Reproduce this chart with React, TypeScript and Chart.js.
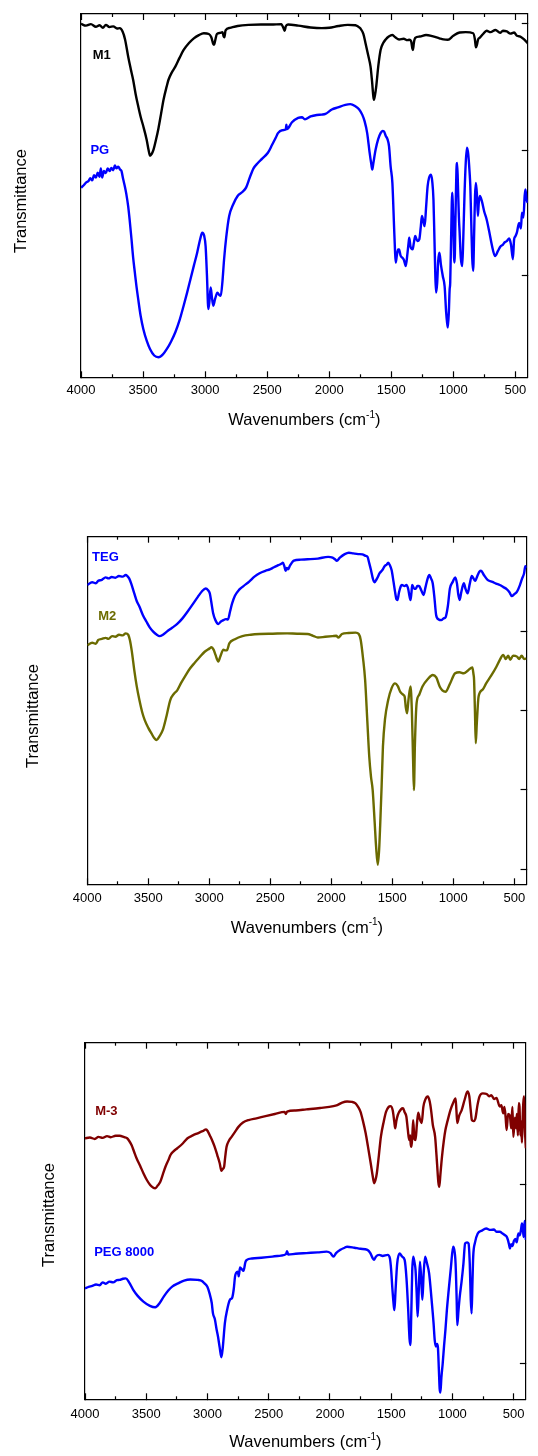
import React, { useEffect, useRef } from 'react';
import { Chart, registerables } from 'chart.js';

Chart.register(...registerables);

type Pt = [number, number]; // [wavenumber cm-1, transmittance (a.u.)]

// ---------------- DATA ----------------
const X_MAJOR_TICKS = [4000, 3500, 3000, 2500, 2000, 1500, 1000, 500];
const X_MINOR_TICKS = [3750, 3250, 2750, 2250, 1750, 1250, 750];

const M1_SPECTRUM: Pt[] = [
  [4000, 97.3], [3960, 96.8], [3920, 97.2], [3880, 96.5], [3850, 96.9], [3824, 96.2], [3800, 97.0], [3770, 96.4],
  [3740, 96.6], [3710, 96.0], [3688, 96.1], [3665, 95.2], [3645, 93.0], [3620, 88.3], [3600, 85.0], [3580, 81.9],
  [3560, 78.0], [3539, 74.6], [3518, 71.5], [3498, 69.1], [3471, 65.4], [3455, 62.5], [3444, 61.0], [3430, 61.5],
  [3417, 62.5], [3395, 65.5], [3376, 68.5], [3355, 72.5], [3335, 76.4], [3310, 80.0], [3295, 81.9], [3270, 83.8],
  [3240, 85.5], [3205, 88.0], [3173, 90.1], [3130, 92.0], [3091, 93.3], [3050, 94.2], [3010, 94.7], [2970, 94.5],
  [2950, 93.6], [2935, 91.8], [2928, 91.5], [2920, 92.5], [2905, 94.5], [2880, 94.8], [2860, 95.0], [2850, 93.8],
  [2845, 93.6], [2835, 95.5], [2800, 96.2], [2738, 96.7], [2650, 97.0], [2550, 97.1], [2467, 97.1], [2386, 97.2],
  [2365, 95.8], [2359, 95.4], [2350, 96.6], [2332, 97.1], [2250, 96.8], [2150, 96.3], [2060, 96.1], [2000, 96.2],
  [1925, 96.7], [1850, 97.0], [1789, 96.9], [1770, 96.6], [1748, 96.0], [1725, 94.5], [1707, 91.9], [1685, 88.5],
  [1667, 85.5], [1655, 81.5], [1645, 77.5], [1640, 76.4], [1632, 77.5], [1621, 80.1], [1605, 85.5], [1586, 90.1],
  [1565, 92.0], [1545, 93.0], [1520, 93.8], [1491, 94.2], [1465, 93.5], [1437, 93.0], [1400, 93.2], [1370, 92.8],
  [1355, 92.9], [1340, 92.5], [1330, 90.5], [1325, 90.1], [1318, 92.0], [1307, 93.4], [1270, 93.8], [1220, 94.2],
  [1170, 93.9], [1112, 93.3], [1080, 93.0], [1044, 92.9], [1000, 94.0], [949, 94.9], [900, 95.0], [840, 94.7],
  [826, 93.0], [818, 90.8], [810, 91.5], [800, 93.0], [786, 93.5], [760, 94.5], [732, 95.4], [700, 95.0],
  [660, 95.6], [623, 94.8], [600, 95.4], [569, 95.2], [540, 94.6], [510, 94.9], [488, 94.0], [460, 93.8],
  [430, 93.0], [400, 91.9],
];

const PG_SPECTRUM: Pt[] = [
  [4000, 52.2], [3980, 52.8], [3960, 53.6], [3940, 54.0], [3925, 54.8], [3910, 54.2], [3895, 55.6], [3880, 55.0],
  [3865, 56.3], [3851, 55.2], [3840, 57.5], [3830, 55.0], [3815, 56.8], [3800, 56.2], [3785, 57.5], [3769, 56.8],
  [3755, 57.6], [3740, 57.0], [3727, 58.3], [3715, 57.5], [3700, 58.0], [3685, 57.2], [3674, 56.8], [3660, 54.5],
  [3647, 52.6], [3635, 50.5], [3620, 47.1], [3607, 43.0], [3593, 38.0], [3580, 33.0], [3566, 28.8], [3553, 25.0],
  [3539, 21.5], [3520, 17.0], [3498, 13.3], [3470, 10.0], [3444, 7.8], [3410, 6.0], [3376, 5.5], [3340, 6.3],
  [3308, 7.8], [3275, 9.8], [3240, 12.4], [3205, 15.8], [3173, 19.7], [3145, 23.3], [3118, 27.0], [3090, 30.8],
  [3064, 34.3], [3040, 38.0], [3023, 39.8], [3008, 39.0], [2996, 36.1], [2985, 28.0], [2974, 18.8], [2965, 21.0],
  [2955, 24.7], [2945, 22.0], [2934, 19.7], [2920, 21.5], [2901, 23.3], [2885, 22.6], [2874, 22.4], [2860, 26.5],
  [2847, 32.5], [2830, 38.5], [2806, 44.4], [2775, 47.5], [2738, 49.9], [2700, 51.0], [2670, 52.2], [2640, 55.0],
  [2610, 57.5], [2575, 59.0], [2540, 60.2], [2494, 61.8], [2460, 64.0], [2430, 66.0], [2413, 67.2], [2380, 68.0],
  [2350, 68.2], [2345, 69.5], [2340, 68.3], [2300, 70.2], [2250, 71.4], [2220, 71.6], [2196, 71.0], [2150, 71.8],
  [2100, 72.2], [2060, 72.3], [2030, 72.5], [1979, 73.7], [1930, 74.3], [1870, 75.0], [1830, 75.2], [1789, 74.6],
  [1760, 73.8], [1734, 72.3], [1715, 70.5], [1694, 67.2], [1675, 62.0], [1660, 58.5], [1653, 57.2], [1645, 58.8],
  [1626, 62.7], [1606, 65.5], [1586, 67.2], [1570, 67.8], [1559, 67.7], [1545, 66.5], [1530, 65.5], [1518, 63.6],
  [1505, 58.0], [1491, 53.5], [1478, 42.0], [1470, 35.0], [1464, 31.6], [1455, 33.5], [1445, 35.2], [1437, 35.2],
  [1425, 33.5], [1410, 32.9], [1398, 32.3], [1383, 30.6], [1370, 34.0], [1362, 36.5], [1355, 38.4], [1345, 36.0],
  [1328, 35.2], [1318, 37.0], [1307, 38.9], [1290, 37.5], [1274, 38.0], [1262, 41.5], [1253, 44.4], [1242, 43.0],
  [1231, 41.6], [1220, 46.5], [1207, 52.6], [1195, 55.0], [1180, 55.8], [1170, 54.0], [1160, 48.9], [1152, 38.0],
  [1145, 28.0], [1139, 23.3], [1130, 26.0], [1122, 32.0], [1112, 34.3], [1100, 31.0], [1085, 27.9], [1070, 25.0],
  [1058, 18.0], [1050, 15.0], [1044, 13.7], [1036, 18.0], [1030, 24.0], [1025, 26.1], [1018, 38.0], [1009, 50.8],
  [1000, 42.0], [994, 33.0], [990, 31.6], [982, 45.0], [975, 57.0], [969, 59.0], [962, 52.0], [955, 44.0],
  [949, 39.8], [940, 33.0], [928, 30.6], [920, 38.0], [910, 50.0], [900, 59.0], [890, 63.2], [880, 61.5],
  [870, 57.0], [863, 52.6], [855, 42.0], [848, 33.0], [840, 29.3], [832, 40.0], [825, 50.0], [818, 53.5],
  [810, 50.5], [802, 44.4], [795, 48.0], [786, 49.9], [770, 48.5], [750, 45.5], [732, 43.5], [710, 40.0],
  [690, 36.5], [664, 33.4], [640, 34.8], [620, 36.0], [600, 36.5], [585, 37.2], [569, 37.5], [550, 38.2],
  [535, 36.5], [520, 32.5], [510, 38.0], [500, 38.8], [488, 39.8], [470, 42.5], [455, 41.0], [447, 45.3],
  [435, 44.0], [425, 50.0], [419, 51.7], [410, 49.0], [400, 48.0],
];

const TEG_SPECTRUM: Pt[] = [
  [4000, 86.1], [3960, 86.9], [3930, 86.6], [3910, 87.3], [3880, 87.6], [3850, 88.3], [3826, 88.0], [3800, 88.4],
  [3770, 88.2], [3741, 88.7], [3710, 88.5], [3685, 89.0], [3670, 88.6], [3657, 88.0], [3640, 86.5], [3615, 83.7],
  [3595, 81.5], [3573, 79.9], [3545, 77.5], [3516, 75.6], [3490, 74.0], [3460, 72.7], [3430, 71.8], [3409, 71.4],
  [3380, 71.8], [3348, 72.7], [3305, 73.8], [3263, 74.9], [3220, 76.5], [3179, 78.4], [3135, 80.6], [3094, 82.7],
  [3060, 84.3], [3030, 85.1], [3010, 84.6], [2996, 83.7], [2985, 81.5], [2968, 77.9], [2950, 76.0], [2926, 74.9],
  [2905, 75.6], [2884, 76.0], [2865, 76.3], [2847, 76.2], [2830, 78.5], [2813, 80.8], [2790, 83.0], [2757, 84.7],
  [2720, 85.8], [2673, 87.1], [2630, 88.5], [2588, 89.5], [2540, 90.2], [2504, 90.6], [2470, 91.2], [2434, 91.8],
  [2410, 92.2], [2397, 92.5], [2385, 91.5], [2375, 90.2], [2365, 91.0], [2355, 90.6], [2340, 91.6], [2307, 93.1],
  [2250, 93.4], [2195, 93.5], [2110, 93.7], [2026, 94.2], [1990, 94.0], [1970, 93.5], [1955, 93.1], [1930, 94.0],
  [1890, 95.0], [1857, 95.4], [1820, 95.2], [1780, 95.0], [1745, 94.9], [1720, 94.5], [1703, 94.2], [1690, 92.5],
  [1675, 90.4], [1660, 88.0], [1647, 86.9], [1625, 88.0], [1604, 89.5], [1580, 90.5], [1562, 91.6], [1545, 92.0],
  [1534, 92.5], [1520, 91.8], [1506, 90.4], [1490, 87.0], [1478, 84.2], [1466, 82.0], [1458, 81.8], [1445, 84.0],
  [1430, 85.8], [1422, 86.1], [1400, 85.8], [1385, 86.1], [1370, 85.0], [1360, 83.0], [1351, 81.8], [1343, 84.0],
  [1337, 86.1], [1320, 85.0], [1309, 85.0], [1295, 85.8], [1281, 85.8], [1262, 84.5], [1244, 83.2], [1228, 85.5],
  [1210, 88.0], [1197, 89.0], [1183, 88.0], [1169, 86.6], [1155, 82.5], [1141, 77.5], [1120, 76.2], [1098, 76.0],
  [1080, 76.5], [1064, 76.8], [1045, 80.0], [1028, 85.1], [1005, 87.0], [985, 88.3], [970, 86.5], [960, 83.5],
  [948, 81.8], [935, 84.0], [914, 86.6], [900, 85.0], [883, 83.7], [865, 86.5], [849, 88.7], [835, 88.0],
  [821, 87.3], [800, 89.0], [785, 90.0], [773, 90.2], [750, 89.0], [717, 87.5], [680, 87.0], [650, 86.5],
  [619, 86.1], [590, 85.5], [563, 84.9], [540, 84.0], [521, 82.9], [500, 83.5], [478, 84.2], [455, 86.0],
  [436, 88.0], [420, 89.5], [410, 91.5], [400, 91.0],
];

const M2_SPECTRUM: Pt[] = [
  [4000, 68.8], [3960, 69.5], [3930, 69.2], [3910, 70.3], [3880, 70.6], [3850, 70.9], [3826, 70.6], [3797, 71.4],
  [3770, 71.2], [3740, 71.8], [3710, 71.6], [3685, 72.2], [3665, 71.8], [3651, 70.3], [3635, 67.0], [3615, 61.6],
  [3595, 57.0], [3573, 53.0], [3550, 49.5], [3530, 47.3], [3500, 45.0], [3474, 43.4], [3450, 42.0], [3432, 41.5],
  [3410, 42.5], [3381, 44.4], [3350, 48.5], [3320, 53.0], [3290, 54.8], [3263, 55.8], [3230, 58.0], [3193, 60.2],
  [3160, 62.0], [3123, 63.6], [3080, 65.3], [3038, 66.9], [3000, 67.8], [2982, 68.2], [2965, 67.5], [2949, 66.0],
  [2935, 64.6], [2926, 64.1], [2910, 65.5], [2884, 67.5], [2870, 67.3], [2856, 67.3], [2836, 69.3], [2790, 70.5],
  [2729, 71.4], [2660, 71.8], [2588, 72.0], [2480, 72.1], [2363, 72.2], [2280, 72.1], [2195, 72.0], [2150, 71.5],
  [2110, 71.0], [2050, 71.2], [1990, 71.4], [1960, 71.5], [1942, 71.0], [1913, 72.0], [1860, 72.3], [1801, 72.4],
  [1775, 72.0], [1759, 70.3], [1740, 65.0], [1723, 58.8], [1705, 47.0], [1689, 36.7], [1675, 31.0], [1661, 27.1],
  [1645, 18.0], [1633, 10.8], [1619, 5.6], [1608, 10.0], [1599, 17.5], [1588, 28.0], [1577, 39.6], [1560, 47.5],
  [1534, 53.0], [1505, 56.5], [1478, 57.8], [1455, 57.0], [1436, 55.4], [1410, 54.5], [1399, 54.0], [1390, 51.0],
  [1379, 49.2], [1368, 53.0], [1351, 56.9], [1340, 50.0], [1330, 36.0], [1323, 27.1], [1315, 40.0], [1301, 52.1],
  [1280, 54.5], [1253, 56.9], [1210, 59.0], [1169, 60.2], [1140, 59.5], [1112, 56.9], [1090, 55.8], [1064, 55.4],
  [1030, 57.5], [985, 60.7], [950, 61.0], [914, 60.7], [880, 61.5], [844, 62.4], [835, 60.5], [830, 58.8],
  [823, 50.0], [816, 40.6], [808, 46.0], [793, 54.0], [760, 56.0], [731, 57.8], [690, 60.0], [647, 62.6],
  [620, 64.5], [591, 66.0], [570, 64.8], [550, 65.8], [534, 64.6], [510, 65.8], [478, 65.5], [460, 64.8],
  [440, 65.8], [420, 64.8], [400, 65.0],
];

const M3_SPECTRUM: Pt[] = [
  [4000, 73.2], [3960, 73.4], [3920, 73.0], [3890, 73.6], [3856, 73.3], [3820, 73.8], [3790, 73.5], [3750, 73.9],
  [3717, 73.9], [3680, 73.5], [3656, 73.2], [3640, 72.5], [3620, 71.3], [3600, 69.5], [3579, 67.6], [3550, 65.5],
  [3523, 63.4], [3495, 61.5], [3468, 60.1], [3445, 59.4], [3426, 59.2], [3405, 60.0], [3385, 61.0], [3365, 63.0],
  [3343, 65.2], [3320, 67.0], [3302, 68.5], [3275, 69.6], [3246, 70.4], [3200, 71.8], [3163, 73.2], [3120, 74.0],
  [3080, 74.6], [3040, 75.2], [3011, 75.7], [2995, 75.0], [2975, 73.6], [2958, 72.3], [2941, 70.8], [2920, 68.5],
  [2900, 66.2], [2886, 64.1], [2875, 64.6], [2864, 65.2], [2855, 68.0], [2844, 70.8], [2825, 72.5], [2803, 73.6],
  [2775, 75.0], [2747, 76.4], [2710, 77.6], [2664, 78.3], [2600, 78.8], [2526, 79.4], [2450, 80.0], [2370, 80.6],
  [2359, 80.0], [2350, 80.7], [2280, 81.0], [2193, 81.3], [2080, 81.7], [1971, 82.2], [1940, 82.5], [1900, 83.2],
  [1860, 83.5], [1820, 83.4], [1791, 83.0], [1770, 82.0], [1750, 80.6], [1730, 78.0], [1708, 74.6], [1690, 71.0],
  [1667, 66.2], [1650, 62.5], [1639, 60.6], [1628, 61.5], [1617, 63.4], [1600, 68.5], [1584, 73.6], [1560, 78.0],
  [1542, 80.6], [1520, 82.0], [1506, 82.2], [1487, 81.0], [1475, 78.0], [1467, 76.0], [1458, 78.0], [1445, 79.8],
  [1420, 81.3], [1403, 81.6], [1390, 80.5], [1376, 79.3], [1365, 76.0], [1353, 72.7], [1345, 74.0], [1340, 71.5],
  [1334, 70.8], [1327, 74.0], [1320, 78.3], [1310, 73.0], [1301, 72.7], [1290, 77.0], [1279, 80.4], [1265, 78.5],
  [1251, 77.5], [1237, 82.0], [1223, 83.9], [1201, 84.9], [1185, 83.5], [1174, 81.1], [1160, 77.0], [1141, 73.6],
  [1125, 66.0], [1115, 61.0], [1107, 59.6], [1098, 63.0], [1085, 68.0], [1070, 72.5], [1057, 75.5], [1040, 78.0],
  [1016, 81.1], [995, 83.0], [974, 84.4], [967, 81.0], [960, 77.5], [945, 79.5], [924, 81.1], [900, 84.0],
  [877, 86.3], [862, 85.0], [850, 81.0], [841, 78.3], [828, 78.0], [813, 78.6], [795, 82.5], [779, 84.9],
  [752, 85.8], [720, 85.6], [700, 85.0], [682, 85.3], [660, 84.2], [640, 84.5], [613, 82.1], [600, 82.5],
  [585, 80.2], [575, 82.0], [565, 79.0], [557, 75.5], [545, 80.0], [530, 79.5], [520, 76.0], [510, 82.0],
  [502, 73.6], [490, 79.0], [480, 76.0], [474, 80.0], [465, 74.0], [458, 83.0], [452, 82.1], [445, 74.0],
  [440, 78.0], [432, 72.0], [425, 80.0], [418, 84.9], [414, 84.9], [408, 76.0], [400, 70.4],
];

const PEG8000_SPECTRUM: Pt[] = [
  [4000, 31.1], [3970, 31.5], [3940, 31.8], [3910, 32.2], [3880, 32.0], [3856, 32.8], [3830, 32.4], [3800, 33.0],
  [3770, 32.8], [3740, 33.4], [3717, 33.5], [3690, 33.8], [3667, 33.9], [3640, 32.8], [3606, 30.7], [3570, 29.0],
  [3523, 27.4], [3470, 26.2], [3426, 25.8], [3390, 27.0], [3357, 28.8], [3320, 30.5], [3288, 31.6], [3240, 32.5],
  [3191, 33.3], [3140, 33.6], [3080, 33.5], [3045, 33.2], [3024, 32.5], [3000, 31.5], [2983, 29.7], [2965, 27.0],
  [2955, 24.1], [2940, 22.5], [2925, 19.5], [2914, 17.6], [2900, 14.5], [2886, 11.8], [2875, 14.5], [2858, 21.3],
  [2840, 25.0], [2817, 27.9], [2798, 28.5], [2785, 31.0], [2775, 34.4], [2765, 35.5], [2753, 35.8], [2745, 34.5],
  [2734, 37.0], [2720, 36.5], [2706, 36.0], [2690, 38.5], [2678, 39.1], [2636, 39.5], [2560, 39.7], [2470, 40.0],
  [2400, 40.3], [2359, 40.7], [2350, 41.5], [2340, 40.6], [2280, 40.8], [2193, 41.0], [2100, 41.2], [2027, 41.4],
  [1995, 41.0], [1971, 40.0], [1950, 41.0], [1916, 41.9], [1880, 42.5], [1860, 42.8], [1800, 42.5], [1750, 42.2],
  [1694, 41.9], [1670, 41.0], [1650, 39.5], [1639, 39.1], [1625, 40.0], [1597, 40.5], [1570, 40.2], [1528, 40.5],
  [1510, 39.5], [1500, 36.3], [1490, 31.0], [1478, 26.0], [1473, 25.0], [1465, 30.0], [1451, 38.0], [1431, 40.9],
  [1410, 40.0], [1390, 39.1], [1375, 34.0], [1362, 25.9], [1350, 17.0], [1343, 15.2], [1335, 25.0], [1328, 36.0],
  [1320, 40.0], [1310, 38.5], [1301, 36.3], [1292, 30.0], [1284, 23.2], [1275, 30.0], [1265, 38.6], [1255, 34.0],
  [1245, 27.9], [1235, 35.0], [1223, 40.0], [1210, 38.5], [1190, 35.3], [1170, 28.0], [1154, 21.5], [1144, 16.5],
  [1134, 14.8], [1125, 15.5], [1118, 14.5], [1110, 8.0], [1104, 3.0], [1098, 1.9], [1090, 6.0], [1079, 10.1],
  [1068, 15.0], [1057, 19.4], [1045, 25.0], [1030, 30.7], [1012, 37.0], [994, 42.8], [985, 42.0], [974, 38.1],
  [965, 28.0], [960, 20.8], [950, 25.0], [940, 28.8], [925, 33.0], [910, 38.0], [896, 43.7], [880, 44.0],
  [868, 43.7], [858, 38.0], [850, 28.0], [843, 24.1], [836, 33.0], [830, 40.0], [815, 44.0], [793, 46.5],
  [760, 47.3], [724, 47.9], [690, 47.5], [660, 47.6], [640, 47.0], [613, 47.0], [590, 46.5], [570, 46.0],
  [557, 45.6], [545, 44.5], [535, 43.0], [530, 42.3], [520, 43.5], [510, 43.0], [497, 44.5], [485, 45.0],
  [475, 44.0], [461, 46.5], [450, 46.0], [440, 47.5], [432, 49.3], [425, 48.0], [418, 45.5], [410, 50.0],
  [400, 44.7],
];

// right-axis (major) tick values per panel
const PANEL1_Y_TICKS = [97.3, 62.5, 27.9];
const PANEL2_Y_TICKS = [72.7, 49.9, 27.3, 4.4];
const PANEL3_Y_TICKS = [60.1, 10.1];

const X_TITLE = 'Wavenumbers (cm';
const X_TITLE_SUP = '-1';
const Y_TITLE = 'Transmittance';

// ---------------- LAYOUT / STYLE ----------------
const FONT = '"Liberation Sans", Arial, Helvetica, sans-serif';
const PAGE_W = 538;
const LABEL_BOX = 32; // height reserved for x tick labels (scale box)

interface SeriesSpec {
  name: string;
  data: Pt[];
  color: string;
  labelAt: Pt; // where the name is written (data coords)
}
interface PanelSpec {
  canvasTop: number;
  canvasHeight: number;
  area: { left: number; top: number; right: number; bottom: number };
  yTicks: number[];
  series: SeriesSpec[];
  labelPad: number;
  titleGap: number;
  yTitlePos: [number, number];
}

const PANELS: PanelSpec[] = [
  {
    canvasTop: 0,
    canvasHeight: 470,
    area: { left: 81, top: 14, right: 534.3, bottom: 377.3 },
    yTicks: PANEL1_Y_TICKS,
    series: [
      { name: 'M1', data: M1_SPECTRUM, color: '#000000', labelAt: [3905, 88.7] },
      { name: 'PG', data: PG_SPECTRUM, color: '#0000ff', labelAt: [3924, 62.4] },
    ],
    labelPad: 11.5,
    titleGap: 43.5,
    yTitlePos: [21, 201],
  },
  {
    canvasTop: 480,
    canvasHeight: 490,
    area: { left: 87.3, top: 536.7, right: 527, bottom: 884.3 },
    yTicks: PANEL2_Y_TICKS,
    series: [
      { name: 'TEG', data: TEG_SPECTRUM, color: '#0000ff', labelAt: [3961, 94.1] },
      { name: 'M2', data: M2_SPECTRUM, color: '#6b6b00', labelAt: [3910, 77.0] },
    ],
    labelPad: 12.5,
    titleGap: 44,
    yTitlePos: [33, 716],
  },
  {
    canvasTop: 980,
    canvasHeight: 476,
    area: { left: 85, top: 1042.7, right: 530.3, bottom: 1399.3 },
    yTicks: PANEL3_Y_TICKS,
    series: [
      { name: 'M-3', data: M3_SPECTRUM, color: '#800000', labelAt: [3917, 80.7] },
      { name: 'PEG 8000', data: PEG8000_SPECTRUM, color: '#0000ff', labelAt: [3925, 41.1] },
    ],
    labelPad: 13.2,
    titleGap: 43.5,
    yTitlePos: [49, 1215],
  },
];

const fixedTicks = (vals: number[]) => (scale: any) => {
  scale.ticks = vals.map((v) => ({ value: v }));
};
const fixedHeight = (h: number) => (scale: any) => {
  scale.height = h;
};
const zeroWidth = (scale: any) => {
  scale.width = 0;
};

function makeConfig(p: PanelSpec): any {
  const axisColor = '#000';
  const lw = 1.2;
  const xCommon = { type: 'linear', min: 400, max: 4000, reverse: true };
  const yCommon = { type: 'linear', min: 0, max: 100, afterFit: zeroWidth };
  const tickGrid = (len: number) => ({
    display: true,
    drawOnChartArea: false,
    drawTicks: true,
    tickLength: -len,
    tickColor: axisColor,
    tickWidth: lw,
  });

  const textPlugin = {
    id: 'panelText' + p.canvasTop,
    afterDatasetsDraw(chart: any) {
      const ctx = chart.ctx;
      const xs = chart.scales.x;
      const ys = chart.scales.y;
      ctx.save();
      ctx.font = `bold 13px ${FONT}`;
      ctx.textAlign = 'left';
      ctx.textBaseline = 'middle';
      for (const s of p.series) {
        ctx.fillStyle = s.color;
        ctx.fillText(s.name, xs.getPixelForValue(s.labelAt[0]), ys.getPixelForValue(s.labelAt[1]));
      }
      ctx.restore();
    },
    afterDraw(chart: any) {
      const ctx = chart.ctx;
      const ca = chart.chartArea;
      ctx.save();
      ctx.fillStyle = '#000';
      // x title with superscript
      const mainFont = `16.5px ${FONT}`;
      const supFont = `10px ${FONT}`;
      ctx.font = mainFont;
      const w1 = ctx.measureText(X_TITLE).width;
      const w3 = ctx.measureText(')').width;
      ctx.font = supFont;
      const w2 = ctx.measureText(X_TITLE_SUP).width;
      const total = w1 + w2 + w3;
      let x = (ca.left + ca.right) / 2 - total / 2;
      const y = ca.bottom + p.titleGap;
      ctx.textBaseline = 'middle';
      ctx.textAlign = 'left';
      ctx.font = mainFont;
      ctx.fillText(X_TITLE, x, y);
      x += w1;
      ctx.font = supFont;
      ctx.fillText(X_TITLE_SUP, x, y - 6);
      x += w2;
      ctx.font = mainFont;
      ctx.fillText(')', x, y);
      // y title
      ctx.translate(p.yTitlePos[0], p.yTitlePos[1] - p.canvasTop);
      ctx.rotate(-Math.PI / 2);
      ctx.textAlign = 'center';
      ctx.font = mainFont;
      ctx.fillText(Y_TITLE, 0, 0);
      ctx.restore();
    },
  };

  return {
    type: 'line',
    data: {
      datasets: p.series.map((s) => ({
        label: s.name,
        data: s.data.map(([x, y]) => ({ x, y })),
        borderColor: s.color,
        backgroundColor: s.color,
        borderWidth: 2.4,
        pointRadius: 0,
        fill: false,
        cubicInterpolationMode: 'monotone',
        xAxisID: 'x',
        yAxisID: 'y',
      })),
    },
    options: {
      responsive: false,
      maintainAspectRatio: false,
      animation: false,
      devicePixelRatio: 1,
      events: [],
      layout: {
        autoPadding: false,
        padding: {
          left: p.area.left,
          right: PAGE_W - p.area.right,
          top: p.area.top - p.canvasTop,
          bottom: p.canvasTop + p.canvasHeight - p.area.bottom - LABEL_BOX,
        },
      },
      plugins: { legend: { display: false }, tooltip: { enabled: false }, title: { display: false } },
      scales: {
        xMinor: {
          ...xCommon,
          position: 'bottom',
          weight: -1,
          afterFit: fixedHeight(0),
          afterBuildTicks: fixedTicks(X_MINOR_TICKS),
          grid: tickGrid(3),
          border: { display: false },
          ticks: { display: false },
        },
        x: {
          ...xCommon,
          position: 'bottom',
          weight: 0,
          afterFit: fixedHeight(LABEL_BOX),
          afterBuildTicks: fixedTicks(X_MAJOR_TICKS),
          grid: tickGrid(6),
          border: { display: true, color: axisColor, width: lw },
          ticks: {
            autoSkip: false,
            maxRotation: 0,
            minRotation: 0,
            padding: p.labelPad,
            color: '#000',
            font: { family: FONT, size: 13 },
            callback: (v: any) => String(v),
          },
        },
        xTop: {
          ...xCommon,
          position: 'top',
          afterFit: fixedHeight(0),
          afterBuildTicks: fixedTicks(X_MAJOR_TICKS),
          grid: tickGrid(6),
          border: { display: true, color: axisColor, width: lw },
          ticks: { display: false },
        },
        xTopMinor: {
          ...xCommon,
          position: 'top',
          afterFit: fixedHeight(0),
          afterBuildTicks: fixedTicks(X_MINOR_TICKS),
          grid: tickGrid(3),
          border: { display: false },
          ticks: { display: false },
        },
        y: {
          ...yCommon,
          position: 'left',
          grid: { display: false },
          border: { display: true, color: axisColor, width: lw },
          ticks: { display: false },
        },
        yRight: {
          ...yCommon,
          position: 'right',
          afterBuildTicks: fixedTicks(p.yTicks),
          grid: tickGrid(6),
          border: { display: true, color: axisColor, width: lw },
          ticks: { display: false },
        },
      },
    },
    plugins: [textPlugin],
  };
}

function Panel({ spec }: { spec: PanelSpec }) {
  const ref = useRef<HTMLCanvasElement | null>(null);
  useEffect(() => {
    if (!ref.current) return;
    const chart = new Chart(ref.current, makeConfig(spec));
    return () => chart.destroy();
  }, [spec]);
  return (
    <canvas
      ref={ref}
      width={PAGE_W}
      height={spec.canvasHeight}
      style={{
        position: 'absolute',
        left: 0,
        top: spec.canvasTop,
        width: PAGE_W,
        height: spec.canvasHeight,
        display: 'block',
      }}
    />
  );
}

export default function App() {
  return (
    <div
      style={{
        position: 'absolute',
        left: 0,
        top: 0,
        width: PAGE_W,
        height: 1456,
        background: '#fff',
        overflow: 'hidden',
      }}
    >
      {PANELS.map((p) => (
        <Panel key={p.canvasTop} spec={p} />
      ))}
    </div>
  );
}
